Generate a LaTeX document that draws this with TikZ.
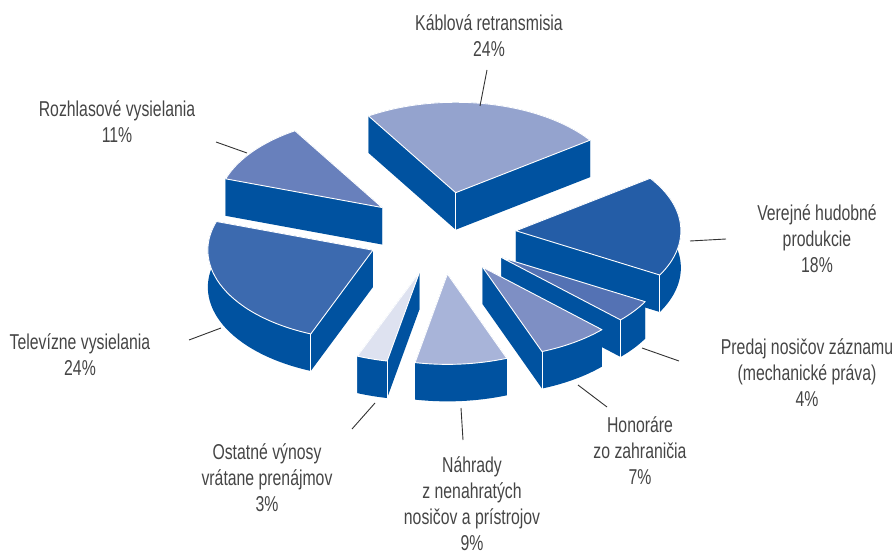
\documentclass[tikz,border=0pt]{standalone}
\usepackage{fontspec}
\setmainfont{Liberation Sans}[FakeStretch=0.735]
\usetikzlibrary{calc}
\definecolor{sidecol}{HTML}{0052A0}
\definecolor{cKab}{HTML}{94A3CE}
\definecolor{cRoz}{HTML}{6880BC}
\definecolor{cTel}{HTML}{3C6AAF}
\definecolor{cVer}{HTML}{245DA7}
\definecolor{cPre}{HTML}{5472B4}
\definecolor{cHon}{HTML}{7E8FC4}
\definecolor{cNah}{HTML}{A8B4D9}
\definecolor{cOst}{HTML}{DEE2F0}
\definecolor{labelgray}{HTML}{454545}
\tikzset{
  lbl/.style={align=center, text=labelgray, font=\fontsize{21.5}{26}\selectfont, inner sep=0pt, anchor=base},
  leader/.style={draw=black!80, line width=0.9pt},
  topface/.style={draw=white, line width=0.9pt, line join=round},
  vedge/.style={draw=white, line width=0.9pt},
}
\newcommand\rot{1.5}
% name, start angle, end angle, top colour
\newcommand\pieslice[4]{%
  \pgfmathsetmacro\sa{#2+\rot}
  \pgfmathsetmacro\sb{#3+\rot}
  \pgfmathsetmacro\smid{(\sa+\sb)/2}
  \coordinate (#1-o) at ({441+75*cos(\smid)},{-233+75*0.548*sin(\smid)});
  \coordinate (#1-a) at ($(#1-o)+({165*cos(\sa)},{90.42*sin(\sa)})$);
  \coordinate (#1-b) at ($(#1-o)+({165*cos(\sb)},{90.42*sin(\sb)})$);
  \coordinate (#1-O) at ($(#1-o)+(0,-37)$);
  \coordinate (#1-A) at ($(#1-a)+(0,-37)$);
  \coordinate (#1-B) at ($(#1-b)+(0,-37)$);
  \fill[sidecol] (#1-o) -- (#1-a) -- (#1-A) -- (#1-O) -- cycle;
  \fill[sidecol] (#1-o) -- (#1-b) -- (#1-B) -- (#1-O) -- cycle;
  \fill[sidecol] (#1-a) arc[start angle=\sa, end angle=\sb, x radius=165, y radius=90.42]
     -- (#1-B) arc[start angle=\sb, end angle=\sa, x radius=165, y radius=90.42] -- cycle;
  \filldraw[topface, fill=#4] (#1-o) -- (#1-a)
     arc[start angle=\sa, end angle=\sb, x radius=165, y radius=90.42] -- cycle;
}
\begin{document}
\begin{tikzpicture}[x=1pt,y=1pt]
\useasboundingbox (0,0) rectangle (895,-553);
% slices, back to front
\pieslice{kab}{34}{120.4}{cKab}
\draw[vedge] (kab-o) -- (kab-O);
\pieslice{roz}{120.4}{160}{cRoz}
\pieslice{ver}{329.2}{394}{cVer}
\draw[vedge] (ver-a) -- (ver-A);
\pieslice{tel}{160}{246.4}{cTel}
\draw[vedge] (tel-b) -- (tel-B);
\pieslice{pre}{314.8}{329.2}{cPre}
\draw[vedge] (pre-a) -- (pre-A);
\pieslice{hon}{289.6}{314.8}{cHon}
\draw[vedge] (hon-a) -- (hon-A);
\pieslice{ost}{246.4}{257.2}{cOst}
\draw[vedge] (ost-b) -- (ost-B);
\pieslice{nah}{257.2}{289.6}{cNah}

% labels (anchor = baseline of the last line)
\node[lbl] (lkab) at (489,-56.7) {Káblová retransmisia\\24\%};
\node[lbl] (lroz) at (117,-142.5) {Rozhlasové vysielania\\11\%};
\node[lbl] (lver) at (817,-272.5) {Verejné hudobné\\produkcie\\18\%};
\node[lbl] (lpre) at (807,-406.7) {Predaj nosičov záznamu\\(mechanické práva)\\4\%};
\node[lbl] (lhon) at (640,-485) {Honoráre\\zo zahraničia\\7\%};
\node[lbl] (lnah) at (472,-550) {Náhrady\\z nenahratých\\nosičov a prístrojov\\9\%};
\node[lbl] (lost) at (267,-511.7) {Ostatné výnosy\\vrátane prenájmov\\3\%};
\node[lbl] (ltel) at (80,-376) {Televízne vysielania\\24\%};

% leader lines
\coordinate (kab1) at (480,-106); \coordinate (kab2) at (487,-70);
\coordinate (roz1) at (247,-153); \coordinate (roz2) at (216,-142);
\coordinate (ver1) at (690,-241); \coordinate (ver2) at (726,-239);
\coordinate (pre1) at (642,-348); \coordinate (pre2) at (679,-361);
\coordinate (hon1) at (578,-385); \coordinate (hon2) at (607,-407);
\coordinate (nah1) at (461,-408); \coordinate (nah2) at (463,-440);
\coordinate (ost1) at (375,-403); \coordinate (ost2) at (352,-429);
\coordinate (tel1) at (221,-328); \coordinate (tel2) at (189,-340);
\foreach \s in {kab,roz,ver,pre,hon,nah,ost,tel}
  \draw[leader] (\s1) -- (\s2);
\end{tikzpicture}
\end{document}
